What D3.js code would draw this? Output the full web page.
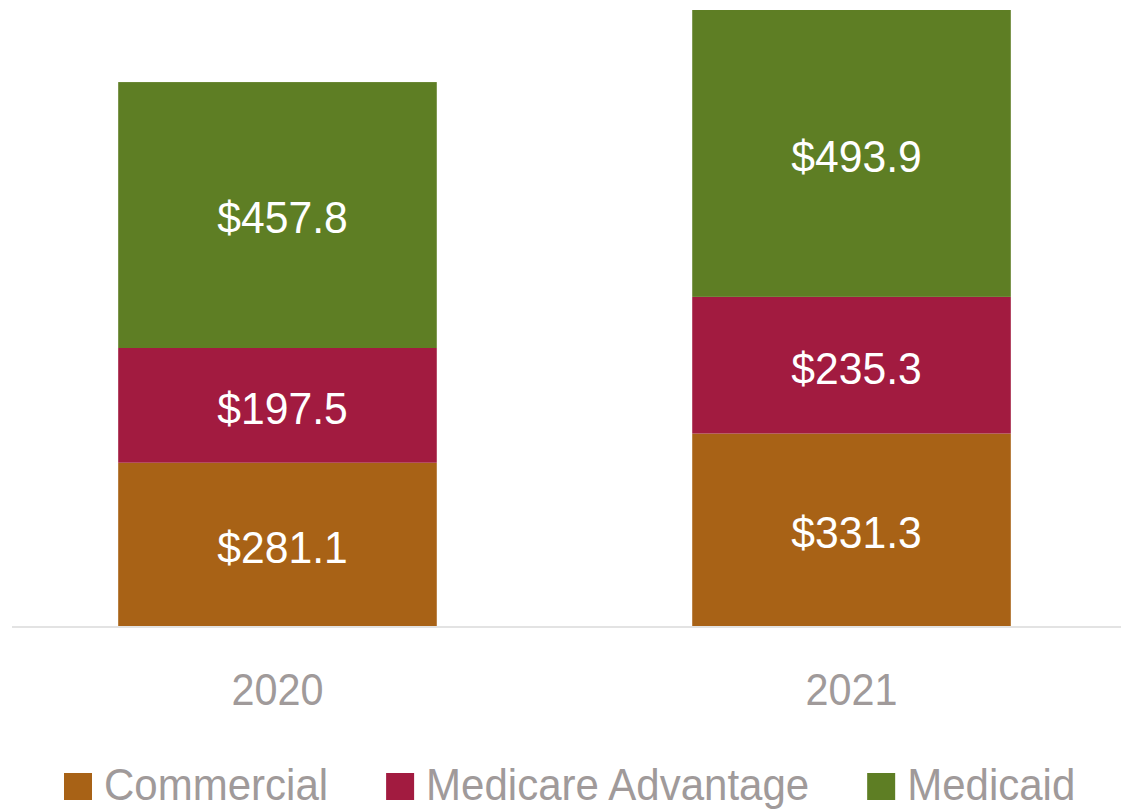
<!DOCTYPE html>
<html>
<head>
<meta charset="utf-8">
<script src="https://cdn.jsdelivr.net/npm/d3@7"></script>
<style>
  html, body { margin: 0; padding: 0; background: #fff; }
  svg { display: block; }
  text { font-family: "Liberation Sans", Arial, sans-serif; }
</style>
</head>
<body>
<svg id="chart" width="1121" height="810"></svg>
<script>
const years = ["2020", "2021"];
const seriesNames = ["Commercial", "Medicare Advantage", "Medicaid"];
const commercial = [281.1, 331.3];
const medicareAdvantage = [197.5, 235.3];
const medicaid = [457.8, 493.9];
const seriesColors = ["#a86216", "#a21b40", "#5e7e24"];

const rows = years.map((y, i) => ({
  year: y,
  "Commercial": commercial[i],
  "Medicare Advantage": medicareAdvantage[i],
  "Medicaid": medicaid[i]
}));

const svg = d3.select("#chart");
const FS = 44, SX = 0.94, SXL = 0.97, SXG = 0.955;
const textColor = "#a09a9a";

const stack = d3.stack().keys(seriesNames);
const stacked = stack(rows);
const maxTotal = d3.max(rows, r => seriesNames.reduce((s, k) => s + r[k], 0));

const x = d3.scaleBand().domain(years).range([12, 1117])
  .paddingInner(0.445).paddingOuter(0.185);
const y = d3.scaleLinear().domain([0, maxTotal]).range([626, 10]);
const color = d3.scaleOrdinal().domain(seriesNames).range(seriesColors);

// bars
const layers = svg.append("g").selectAll("g").data(stacked).join("g")
  .attr("fill", d => color(d.key));
layers.selectAll("rect").data(d => d.map(p => ({p, key: d.key}))).join("rect")
  .attr("x", d => x(d.p.data.year))
  .attr("width", x.bandwidth())
  .attr("y", d => y(d.p[1]))
  .attr("height", d => y(d.p[0]) - y(d.p[1]));

// value labels
layers.selectAll("text").data(d => d.map(p => ({p, key: d.key}))).join("text")
  .attr("transform", d => `translate(${x(d.p.data.year) + x.bandwidth() / 2 + 5},${(y(d.p[0]) + y(d.p[1])) / 2 + 3}) scale(${SXL},1)`)
  .attr("text-anchor", "middle")
  .attr("dy", "0.35em")
  .attr("fill", "#ffffff")
  .attr("font-size", FS)
  .text(d => "$" + d3.format(".1f")(d.p.data[d.key]));

// axis baseline
const xAxis = d3.axisBottom(x).tickSize(0).tickPadding(0);
const ax = svg.append("g").attr("transform", `translate(0,${y(0)})`).call(xAxis);
ax.select(".domain").remove();
svg.append("line")
  .attr("x1", 12).attr("x2", 1121)
  .attr("y1", y(0) + 1).attr("y2", y(0) + 1)
  .attr("stroke", "#e3e3e3").attr("stroke-width", 2);
ax.selectAll(".tick text")
  .attr("font-size", FS)
  .attr("font-family", "Liberation Sans, Arial, sans-serif")
  .attr("fill", textColor)
  .attr("y", 0).attr("dy", 0)
  .attr("transform", `translate(0,79) scale(${SX},1)`);

// legend
const legend = svg.append("g").attr("transform", "translate(64,800)");
let cx = 0;
seriesNames.forEach((name, i) => {
  const g = legend.append("g").attr("transform", `translate(${cx},0)`);
  g.append("rect").attr("x", 0).attr("y", -27).attr("width", 28).attr("height", 27)
    .attr("fill", color(name));
  const t = g.append("text")
    .attr("transform", `translate(40,0) scale(${SXG},1)`)
    .attr("font-size", FS).attr("fill", textColor).text(name);
  const w = t.node().getComputedTextLength() * SXG;
  cx += 40 + w + 58;
});
</script>
</body>
</html>
